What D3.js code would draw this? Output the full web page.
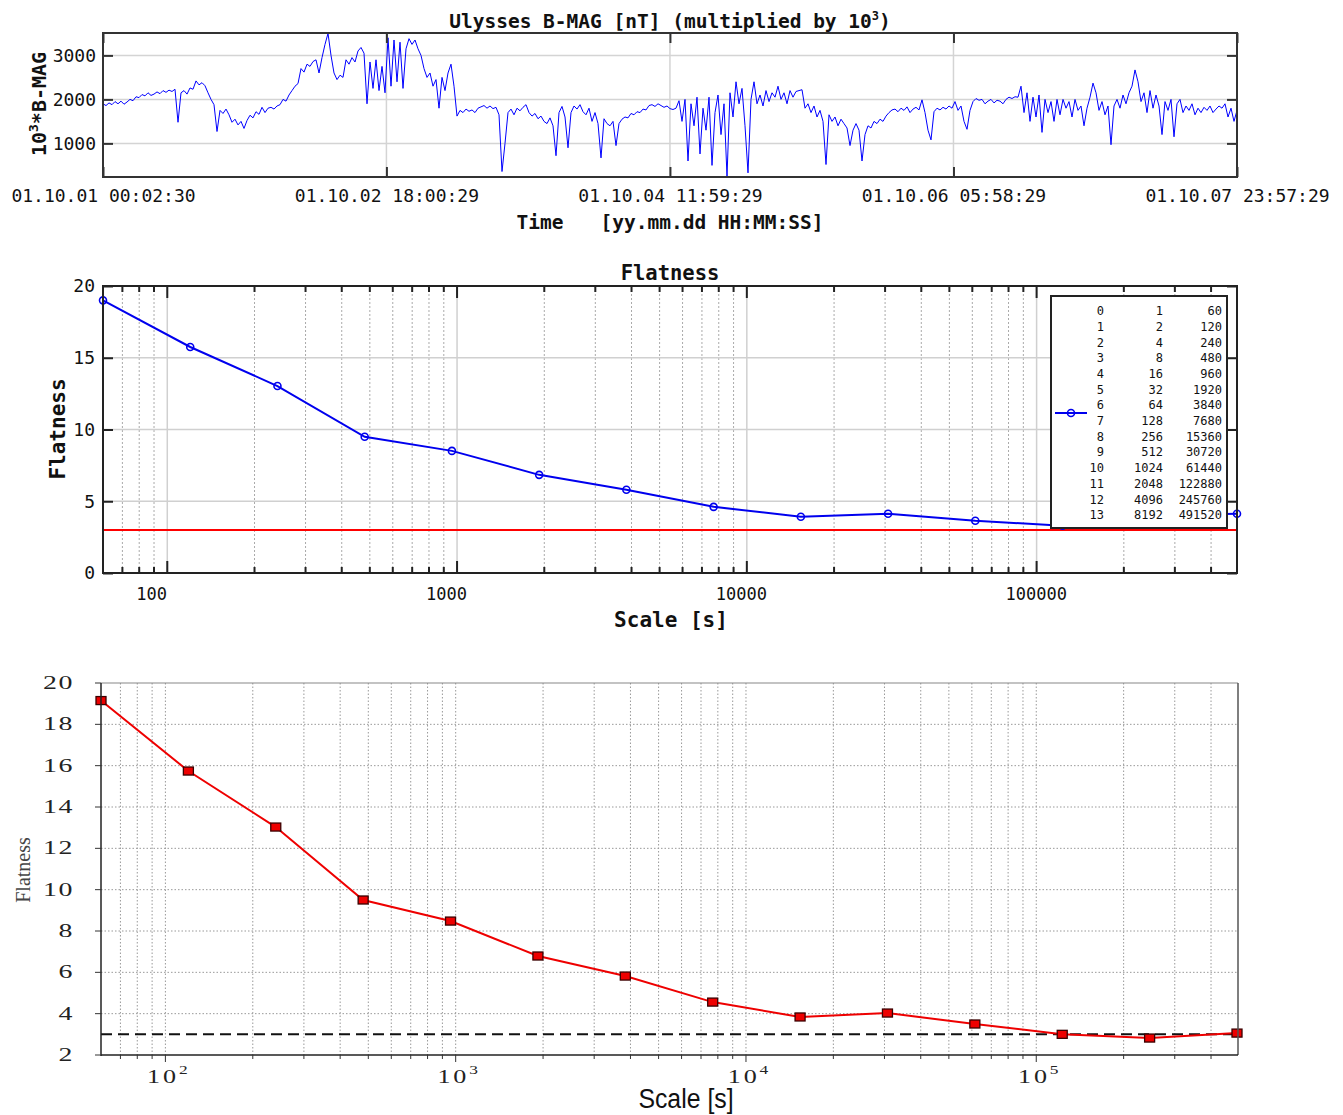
<!DOCTYPE html>
<html>
<head>
<meta charset="utf-8">
<script src="https://cdn.jsdelivr.net/npm/d3@7"></script>
<style>
body { margin: 0; background: #fff; }
svg { display: block; }
.mono { font-family: "DejaVu Sans Mono", monospace; fill: #111; }
.serif { font-family: "Liberation Serif", "Times New Roman", serif; fill: #222; }
</style>
</head>
<body>
<div id="chart"></div>
<script>
// ---------- data ----------
// B-MAG (x10^3 nT), evenly spaced in time between tStart and tEnd
const bmag = [
1900,1860,1920,1880,1950,1900,1960,1890,
1940,2000,1970,2060,2040,2110,2080,
2150,2090,2120,2170,2130,2200,2160,2210,2180,2230,
1480,
2150,2200,2120,2260,2230,
2420,2330,2380,
2310,2150,
2000,1880,
1270,
1750,1680,1780,1650,
1480,1550,1420,1500,1340,
1520,1640,1580,1720,1660,1820,1700,1800,
1820,1780,1850,1880,2000,
1960,2100,2200,2300,2360,
2700,2620,2800,2750,2860,
2900,2600,2950,
3250,3500,
3000,2600,2450,
2550,2500,2900,
2800,2950,2850,3100,
3180,3050,
1900,
2850,2250,2900,2200,2750,2150,
3400,2300,3350,2400,3300,2250,3150,
3380,3250,3350,3150,3000,
2700,2500,2600,2300,
2450,1800,2500,2200,2600,2800,
2300,
1620,
1750,1700,1780,1730,1760,1700,1800,
1830,1860,1800,1850,1790,1820,
1650,360,1000,
1700,1780,1650,1800,1740,1820,1880,
1700,1620,1680,1560,1620,1500,
1450,1580,1400,720,
1700,1840,1600,
900,
1700,1850,1780,1880,1720,
1650,1800,1500,1700,1450,670,
1560,1450,1400,1500,950,1450,
1550,1600,1580,1680,1650,1720,1700,1780,1760,1860,
1880,1840,1900,1860,1820,1850,1790,1770,
1800,1970,1500,2000,600,1900,1400,2050,760,
1800,1300,2050,500,1700,2100,1200,1900,250,
2150,1600,2400,1900,2250,1400,330,2000,2400,
1900,2100,1850,2200,1950,2150,2050,2300,
2000,2150,1900,2200,2050,2180,2200,2220,
1800,1900,1700,1850,1600,1750,1500,520,
1650,1500,1600,1400,1550,1450,1350,950,1300,1450,
1300,600,1200,
1400,1350,1500,1450,1550,1500,1620,1700,1760,
1780,1720,1800,1750,1830,1700,1780,1820,1760,1990,
1700,1300,1080,
1720,1800,1760,1820,1780,1850,
1800,1950,1750,1850,1500,1320,
1750,1950,2020,1980,2000,1900,1960,2000,1920,1980,1960,1900,
2000,2050,2020,2060,2050,2300,
1700,2150,1500,2050,1600,2100,1250,2000,1700,1950,1500,2000,
1650,2000,1800,1950,1600,2000,1750,1850,1400,
1800,2050,2370,2150,1750,1950,1650,1850,
970,1850,2000,1800,2100,1900,2150,2300,
2670,2400,1950,
2150,1700,2200,1800,2100,1850,1200,1950,1750,2000,1150,
1900,2000,1700,1850,1750,1900,1650,1800,1700,1820,1750,1850,1700,
1780,1850,1800,1900,1600,1800,1500,1750
];
const tStart = "01.10.01 00:02:30";
const tEnd = "01.10.07 23:57:29";
const timeTicks = ["01.10.01 00:02:30", "01.10.02 18:00:29", "01.10.04 11:59:29", "01.10.06 05:58:29", "01.10.07 23:57:29"];
const bmagTicks = [1000, 2000, 3000];
const bmagRange = [236, 3509];

// flatness vs scale
const levels = [0,1,2,3,4,5,6,7,8,9,10,11,12,13];
const factors = [1,2,4,8,16,32,64,128,256,512,1024,2048,4096,8192];
const scales = [60,120,240,480,960,1920,3840,7680,15360,30720,61440,122880,245760,491520];
const flatBlue = [19.0,15.75,13.03,9.49,8.51,6.84,5.8,4.61,3.92,4.13,3.64,3.3,4.0,4.13];
const flatRed = [19.15,15.74,13.03,9.5,8.48,6.79,5.82,4.56,3.84,4.03,3.5,3.0,2.82,3.06];
const gaussLevel = 3;
const midTicksY = [0,5,10,15,20];
const botTicksY = [2,4,6,8,10,12,14,16,18,20];

// ---------- svg ----------
const W = 1343, H = 1115;
const svg = d3.select("#chart").append("svg")
	.attr("width", W).attr("height", H);

const parse = d3.utcParse("%y.%m.%d %H:%M:%S");
const t0 = parse(tStart), t1 = parse(tEnd);
const dt = (t1 - t0) / (bmag.length - 1);
const series = bmag.map((v, i) => ({ t: new Date(+t0 + i * dt), v: v }));

//=========== panel 1 : time series ===========
const x1 = d3.scaleUtc().domain([t0, t1]).range([103, 1237]);
const y1 = d3.scaleLinear().domain(bmagRange).range([177, 33]);
const p1 = svg.append("g");

// grid
p1.selectAll(".hg").data(bmagTicks).enter().append("line")
	.attr("x1", 103).attr("x2", 1237)
	.attr("y1", d => y1(d)).attr("y2", d => y1(d))
	.attr("stroke", "#d4d4d4").attr("stroke-width", 1.5);
p1.selectAll(".vg").data(timeTicks.slice(1, -1)).enter().append("line")
	.attr("x1", d => x1(parse(d))).attr("x2", d => x1(parse(d)))
	.attr("y1", 33).attr("y2", 177)
	.attr("stroke", "#d4d4d4").attr("stroke-width", 1.5);

p1.append("path").datum(series)
	.attr("fill", "none").attr("stroke", "#0000ff").attr("stroke-width", 1)
	.attr("d", d3.line().x(d => x1(d.t)).y(d => y1(d.v)));

// axes
const ax1b = p1.append("g").attr("transform", "translate(0,177)")
	.call(d3.axisBottom(x1).tickValues(timeTicks.map(parse)).tickSize(-10).tickPadding(12)
		.tickFormat((d, i) => timeTicks[i]));
const ax1t = p1.append("g").attr("transform", "translate(0,33)")
	.call(d3.axisTop(x1).tickValues(timeTicks.map(parse)).tickSize(-10).tickFormat(""));
const ax1l = p1.append("g").attr("transform", "translate(103,0)")
	.call(d3.axisLeft(y1).tickValues(bmagTicks).tickSize(-10).tickPadding(7).tickFormat(d3.format("d")));
const ax1r = p1.append("g").attr("transform", "translate(1237,0)")
	.call(d3.axisRight(y1).tickValues(bmagTicks).tickSize(-10).tickFormat(""));
[ax1b, ax1t, ax1l, ax1r].forEach(a => {
	a.select(".domain").remove();
	a.selectAll("line").attr("stroke", "#333").attr("stroke-width", 2);
	a.selectAll("text").attr("class", "mono").style("font-size", "18px");
});
ax1b.selectAll("text").attr("dy", "0.71em");
p1.append("rect").attr("x", 103).attr("y", 33).attr("width", 1134).attr("height", 144)
	.attr("fill", "none").attr("stroke", "#333").attr("stroke-width", 2);

const tt = p1.append("text").attr("class", "mono").attr("x", 670).attr("y", 28)
	.attr("text-anchor", "middle").style("font-size", "19.5px").style("font-weight", "bold");
tt.append("tspan").text("Ulysses B-MAG [nT] (multiplied by 10");
tt.append("tspan").text("3").attr("dy", -8).style("font-size", "12px");
tt.append("tspan").text(")").attr("dy", 8);

const yl = p1.append("text").attr("class", "mono")
	.attr("transform", "translate(46,104) rotate(-90)")
	.attr("text-anchor", "middle").style("font-size", "20px").style("font-weight", "bold");
yl.append("tspan").text("10");
yl.append("tspan").text("3").attr("dy", -8).style("font-size", "13px");
yl.append("tspan").text("*B-MAG").attr("dy", 8);

p1.append("text").attr("class", "mono").attr("x", 540).attr("y", 229)
	.attr("text-anchor", "middle").style("font-size", "19.5px").style("font-weight", "bold")
	.text("Time");
p1.append("text").attr("class", "mono").attr("x", 712).attr("y", 229)
	.attr("text-anchor", "middle").style("font-size", "19.5px").style("font-weight", "bold")
	.text("[yy.mm.dd HH:MM:SS]");

//=========== panel 2 : flatness (blue) ===========
const x2 = d3.scaleLog().domain([60, 491520]).range([103, 1237]);
const y2 = d3.scaleLinear().domain([0, 20]).range([573, 286]);
const p2 = svg.append("g");
const allTicks = x2.ticks().filter(d => d > 60);
const isMajor = d => Math.abs(Math.log10(d) - Math.round(Math.log10(d))) < 1e-9;

p2.selectAll(".mg").data(allTicks).enter().append("line")
	.attr("x1", d => x2(d)).attr("x2", d => x2(d))
	.attr("y1", 286).attr("y2", 573)
	.attr("stroke", d => isMajor(d) ? "#d0d0d0" : "#aaa")
	.attr("stroke-width", d => isMajor(d) ? 1.5 : 1)
	.attr("stroke-dasharray", d => isMajor(d) ? null : "2,2");
p2.selectAll(".hg").data(midTicksY.slice(1, -1)).enter().append("line")
	.attr("x1", 103).attr("x2", 1237)
	.attr("y1", d => y2(d)).attr("y2", d => y2(d))
	.attr("stroke", "#d0d0d0").attr("stroke-width", 1.5);

p2.append("line").attr("x1", 103).attr("x2", 1237)
	.attr("y1", y2(gaussLevel)).attr("y2", y2(gaussLevel))
	.attr("stroke", "#ff0000").attr("stroke-width", 2);

const blue = scales.map((s, i) => ({ s: s, f: flatBlue[i] }));
p2.append("path").datum(blue)
	.attr("fill", "none").attr("stroke", "#0000ee").attr("stroke-width", 2)
	.attr("d", d3.line().x(d => x2(d.s)).y(d => y2(d.f)));
p2.selectAll(".pt").data(blue).enter().append("circle")
	.attr("cx", d => x2(d.s)).attr("cy", d => y2(d.f)).attr("r", 3.5)
	.attr("fill", "none").attr("stroke", "#0000ee").attr("stroke-width", 1.6);

// ticks in
function logTicks(g, y0, dir) {
	g.selectAll("line.tk").data(allTicks).enter().append("line")
		.attr("x1", d => x2(d)).attr("x2", d => x2(d))
		.attr("y1", y0).attr("y2", d => y0 + dir * (isMajor(d) ? 12 : 6))
		.attr("stroke", "#222").attr("stroke-width", 2);
}
logTicks(p2, 573, -1);
logTicks(p2, 286, 1);
const ax2l = p2.append("g").attr("transform", "translate(103,0)")
	.call(d3.axisLeft(y2).tickValues(midTicksY).tickSize(-10).tickPadding(8));
const ax2r = p2.append("g").attr("transform", "translate(1237,0)")
	.call(d3.axisRight(y2).tickValues(midTicksY).tickSize(-10).tickFormat(""));
[ax2l, ax2r].forEach(a => {
	a.select(".domain").remove();
	a.selectAll("line").attr("stroke", "#222").attr("stroke-width", 2);
	a.selectAll("text").attr("class", "mono").style("font-size", "18px");
});
p2.selectAll(".xl").data(allTicks.filter(isMajor)).enter().append("text")
	.attr("class", "mono").attr("x", d => x2(d) - 31).attr("y", 600)
	.style("font-size", "17px").text(d => d3.format("d")(d));
p2.append("rect").attr("x", 103).attr("y", 286).attr("width", 1134).attr("height", 287)
	.attr("fill", "none").attr("stroke", "#222").attr("stroke-width", 2);

// legend
const lg = p2.append("g");
lg.append("rect").attr("x", 1051).attr("y", 296).attr("width", 176).attr("height", 232)
	.attr("fill", "#fff").attr("stroke", "#222").attr("stroke-width", 2);
lg.append("line").attr("x1", 1055).attr("x2", 1087).attr("y1", 413).attr("y2", 413)
	.attr("stroke", "#0000ee").attr("stroke-width", 2);
lg.append("circle").attr("cx", 1071).attr("cy", 413).attr("r", 3.5)
	.attr("fill", "none").attr("stroke", "#0000ee").attr("stroke-width", 1.6);
const rowY = d3.scalePoint().domain(levels).range([311, 515]);
const cols = [[1104, levels], [1163, factors], [1222, scales]];
cols.forEach(c => {
	lg.selectAll(null).data(c[1]).enter().append("text")
		.attr("class", "mono").attr("x", c[0]).attr("y", (d, i) => rowY(levels[i]))
		.attr("dy", "0.35em").attr("text-anchor", "end").style("font-size", "12px")
		.text(d => d);
});

p2.append("text").attr("class", "mono").attr("x", 670).attr("y", 280)
	.attr("text-anchor", "middle").style("font-size", "20.5px").style("font-weight", "bold")
	.text("Flatness");
p2.append("text").attr("class", "mono").attr("transform", "translate(65,429) rotate(-90)")
	.attr("text-anchor", "middle").style("font-size", "21px").style("font-weight", "bold")
	.text("Flatness");
p2.append("text").attr("class", "mono").attr("x", 671).attr("y", 627)
	.attr("text-anchor", "middle").style("font-size", "21px").style("font-weight", "bold")
	.text("Scale [s]");

//=========== panel 3 : flatness (red) ===========
const x3 = d3.scaleLog().domain([60, 491520]).range([101, 1237]);
const y3 = d3.scaleLinear().domain([2, 20]).range([1055, 683]);
const p3 = svg.append("g");

p3.selectAll(".vg").data(allTicks).enter().append("line")
	.attr("x1", d => x3(d)).attr("x2", d => x3(d))
	.attr("y1", 683).attr("y2", 1055)
	.attr("stroke", "#999").attr("stroke-width", 1).attr("stroke-dasharray", "1.5,2");
p3.selectAll(".hg").data(botTicksY.slice(1, -1)).enter().append("line")
	.attr("x1", 101).attr("x2", 1237)
	.attr("y1", d => y3(d)).attr("y2", d => y3(d))
	.attr("stroke", "#999").attr("stroke-width", 1).attr("stroke-dasharray", "1.5,2");

p3.append("line").attr("x1", 101).attr("x2", 1237)
	.attr("y1", y3(gaussLevel)).attr("y2", y3(gaussLevel))
	.attr("stroke", "#111").attr("stroke-width", 2).attr("stroke-dasharray", "11,6");

const red = scales.map((s, i) => ({ s: s, f: flatRed[i] }));
p3.append("path").datum(red)
	.attr("fill", "none").attr("stroke", "#ee0000").attr("stroke-width", 2)
	.attr("d", d3.line().x(d => x3(d.s)).y(d => y3(d.f)));
p3.selectAll(".sq").data(red).enter().append("rect")
	.attr("x", d => x3(d.s) - 5).attr("y", d => y3(d.f) - 4)
	.attr("width", 10).attr("height", 8)
	.attr("fill", "#ee0000").attr("stroke", "#3a0000").attr("stroke-width", 1.3);

// frame
p3.append("line").attr("x1", 101).attr("x2", 1238).attr("y1", 683).attr("y2", 683)
	.attr("stroke", "#888").attr("stroke-width", 1.2);
p3.append("line").attr("x1", 1238).attr("x2", 1238).attr("y1", 683).attr("y2", 1055)
	.attr("stroke", "#555").attr("stroke-width", 1.5);
p3.append("line").attr("x1", 101).attr("x2", 101).attr("y1", 683).attr("y2", 1056)
	.attr("stroke", "#222").attr("stroke-width", 1.5);
p3.append("line").attr("x1", 101).attr("x2", 1238).attr("y1", 1055).attr("y2", 1055)
	.attr("stroke", "#222").attr("stroke-width", 1.5);

p3.selectAll(".bt").data(allTicks).enter().append("line")
	.attr("x1", d => x3(d)).attr("x2", d => x3(d))
	.attr("y1", 1055).attr("y2", d => 1055 + (isMajor(d) ? 7 : 4))
	.attr("stroke", "#333").attr("stroke-width", 1);
p3.selectAll(".lt").data(botTicksY).enter().append("line")
	.attr("x1", 95).attr("x2", 101)
	.attr("y1", d => y3(d)).attr("y2", d => y3(d))
	.attr("stroke", "#333").attr("stroke-width", 1);

p3.selectAll(".yl").data(botTicksY).enter().append("text")
	.attr("class", "serif")
	.attr("transform", d => "translate(74," + (y3(d) + 6) + ") scale(1.55,1)")
	.attr("text-anchor", "end").style("font-size", "18px").style("letter-spacing", "1px")
	.text(d => d);
const xl3 = p3.selectAll(".xl").data(allTicks.filter(isMajor)).enter().append("text")
	.attr("class", "serif")
	.attr("transform", d => "translate(" + (x3(d) + 2) + ",1083) scale(1.45,1)")
	.attr("text-anchor", "middle").style("font-size", "18px");
xl3.append("tspan").text("10").style("letter-spacing", "2px");
xl3.append("tspan").text(d => Math.round(Math.log10(d))).attr("dy", -9).style("font-size", "12px");

p3.append("text").attr("class", "serif")
	.attr("transform", "translate(30,870) rotate(-90)")
	.attr("text-anchor", "middle").style("font-size", "20px").style("fill", "#444")
	.text("Flatness");
p3.append("text")
	.attr("transform", "translate(686,1108) scale(0.92,1)")
	.attr("text-anchor", "middle")
	.style("font-family", "'Liberation Sans', Arial, sans-serif").style("font-size", "27px").style("fill", "#111")
	.text("Scale [s]");
</script>
</body>
</html>
